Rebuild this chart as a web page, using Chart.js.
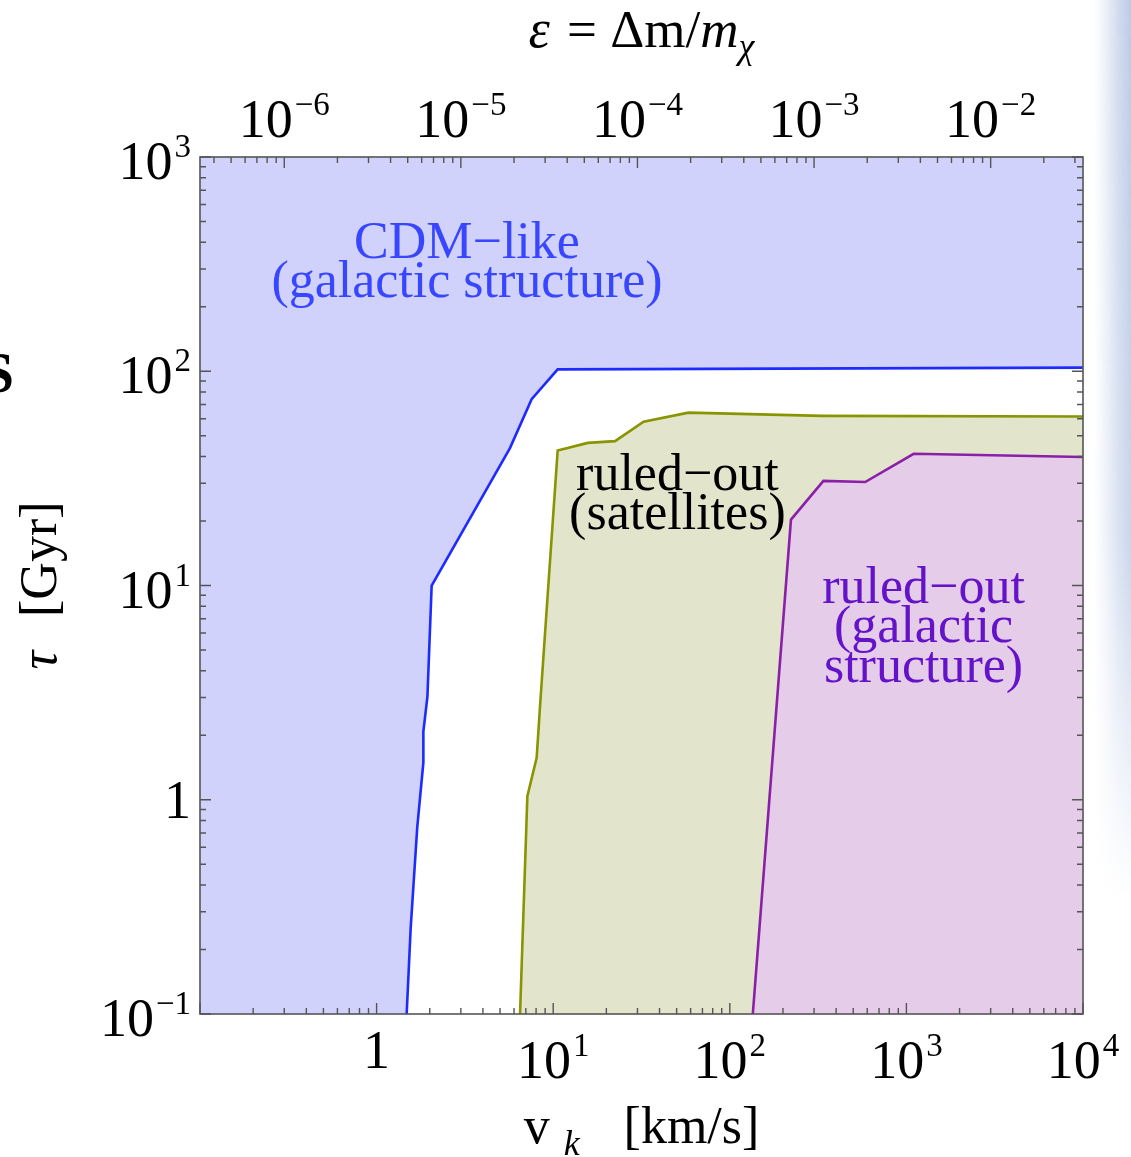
<!DOCTYPE html>
<html>
<head>
<meta charset="utf-8">
<script src="https://cdn.jsdelivr.net/npm/chart.js@4.4.1/dist/chart.umd.min.js"></script>
<style>
  html, body { margin: 0; padding: 0; background: #fff; }
  canvas { display: block; }
</style>
</head>
<body>
<canvas id="myChart" width="1131" height="1157"></canvas>
<script>
// boundaries: v_k [km/s] vs tau [Gyr]
const cdmV = [0.1, 1.48, 1.56, 1.70, 1.84, 1.84, 1.94, 2.05, 5.69, 7.55, 10.6, 10000];
const cdmTau = [0.1, 0.1, 0.253, 0.75, 1.49, 2.08, 3.03, 10.0, 43.8, 74.1, 102, 104];

const satV = [6.49, 7.14, 8.06, 8.42, 9.10, 10.6, 15.7, 22.4, 32.5, 58.3, 332, 10000];
const satTau = [0.1, 1.04, 1.57, 2.72, 6.92, 42.7, 46.3, 47.2, 58.2, 64.1, 61.9, 61.5];

const galV = [135, 222, 339, 584, 1099, 10000];
const galTau = [0.1, 20.3, 30.8, 30.4, 41.2, 39.8];

// tick labels: [mantissa text, exponent text]
const xTickVals = [1, 10, 100, 1000, 10000];
const xTickLabels = [['1', ''], ['10', '1'], ['10', '2'], ['10', '3'], ['10', '4']];
const yTickVals = [0.1, 1, 10, 100, 1000];
const yTickLabels = [['10', '−1'], ['1', ''], ['10', '1'], ['10', '2'], ['10', '3']];
const epsTickVals = [1e-6, 1e-5, 1e-4, 1e-3, 1e-2];
const epsTickLabels = [['10', '−6'], ['10', '−5'], ['10', '−4'], ['10', '−3'], ['10', '−2']];

const C_KMS = 3e5; // epsilon = v / c
const serif = "'Liberation Serif', 'DejaVu Serif', serif";

const ctx = document.getElementById('myChart');

function pts(xs, ys) {
  return xs.map((x, i) => ({ x: x, y: ys[i] }));
}

function richText(c, parts, x, y) {
  let w = 0;
  parts.forEach(p => { c.font = p.font; p.w = c.measureText(p.t).width; w += p.w + (p.gap || 0); });
  let cx = x - w / 2;
  c.textAlign = 'left';
  parts.forEach(p => {
    c.font = p.font;
    c.fillText(p.t, cx, y + (p.dy || 0));
    cx += p.w + (p.gap || 0);
  });
}

// draws "10" with raised exponent; align: 'center' or 'right'
function powerLabel(c, lab, x, base, align) {
  const big = '54px ' + serif, small = '33px ' + serif;
  c.font = big;
  const w1 = c.measureText(lab[0]).width;
  c.font = small;
  const w2 = lab[1] ? c.measureText(lab[1]).width + 2 : 0;
  const w = w1 + w2;
  const x0 = align === 'right' ? x - w : x - w / 2;
  c.textAlign = 'left';
  c.font = big;
  c.fillText(lab[0], x0, base);
  if (lab[1]) {
    c.font = small;
    c.fillText(lab[1], x0 + w1 + 2, base - 22);
  }
}

const notes = [
  { v: 3.25, tau: 338, color: '#3846ff', lines: ['CDM−like', '(galactic structure)'] },
  { v: 50.5, tau: 28, color: '#000000', lines: ['ruled−out', '(satellites)'] },
  { v: 1250, tau: 8.3, color: '#6413c9', lines: ['ruled−out', '(galactic', 'structure)'] }
];

const background = {
  id: 'background',
  beforeDraw(chart) {
    const c = chart.ctx;
    c.save();
    c.fillStyle = '#fff';
    c.fillRect(0, 0, chart.width, chart.height);
    // blurred strip at the right edge of the scan
    const off = document.createElement('canvas');
    off.width = 40; off.height = 900;
    const o = off.getContext('2d');
    const gh = o.createLinearGradient(0, 0, 40, 0);
    gh.addColorStop(0, 'rgba(205,215,235,0)');
    gh.addColorStop(0.6, 'rgba(190,205,232,0.7)');
    gh.addColorStop(1, 'rgba(175,192,225,0.9)');
    o.fillStyle = gh;
    o.fillRect(0, 0, 40, 900);
    o.globalCompositeOperation = 'destination-in';
    const gv = o.createLinearGradient(0, 0, 0, 900);
    gv.addColorStop(0, 'rgba(0,0,0,1)');
    gv.addColorStop(0.6, 'rgba(0,0,0,0.8)');
    gv.addColorStop(1, 'rgba(0,0,0,0)');
    o.fillStyle = gv;
    o.fillRect(0, 0, 40, 900);
    c.drawImage(off, 1094, 0);
    // cropped glyph at left edge
    c.fillStyle = '#000';
    c.font = 'bold 58px ' + serif;
    c.textAlign = 'right';
    c.fillText('S', 14, 392);
    c.restore();
  }
};

const frameTicks = {
  id: 'frameTicks',
  afterDatasetsDraw(chart) {
    const c = chart.ctx;
    const a = chart.chartArea;
    const s = chart.scales;
    const isMajor = v => Math.abs(Math.log10(v) - Math.round(Math.log10(v))) < 1e-6;
    const isNice = v => {
      const e = Math.floor(Math.log10(v) + 1e-9);
      const m = v / Math.pow(10, e);
      return Math.abs(m - Math.round(m)) < 1e-6;
    };
    c.save();
    c.strokeStyle = '#555';
    c.lineWidth = 1.4;
    c.beginPath();
    s.y.ticks.forEach(t => {
      if (!isNice(t.value)) return;
      const p = s.y.getPixelForValue(t.value);
      const len = isMajor(t.value) ? 11 : 6;
      c.moveTo(a.left, p); c.lineTo(a.left + len, p);
      c.moveTo(a.right, p); c.lineTo(a.right - len, p);
    });
    s.x.ticks.forEach(t => {
      if (!isNice(t.value)) return;
      const p = s.x.getPixelForValue(t.value);
      const len = isMajor(t.value) ? 11 : 6;
      c.moveTo(p, a.bottom); c.lineTo(p, a.bottom - len);
    });
    s.x2.ticks.forEach(t => {
      if (!isNice(t.value)) return;
      const p = s.x2.getPixelForValue(t.value);
      const len = isMajor(t.value) ? 11 : 6;
      c.moveTo(p, a.top); c.lineTo(p, a.top + len);
    });
    c.stroke();
    c.lineWidth = 1.6;
    c.strokeRect(a.left, a.top, a.right - a.left, a.bottom - a.top);

    // tick labels
    c.fillStyle = '#000';
    xTickVals.forEach((v, i) => {
      const lab = xTickLabels[i];
      powerLabel(c, lab, s.x.getPixelForValue(v), lab[1] ? a.bottom + 64 : a.bottom + 54, 'center');
    });
    epsTickVals.forEach((v, i) => {
      powerLabel(c, epsTickLabels[i], s.x2.getPixelForValue(v), a.top - 20, 'center');
    });
    yTickVals.forEach((v, i) => {
      const lab = yTickLabels[i];
      powerLabel(c, lab, a.left - 9, s.y.getPixelForValue(v) + (lab[1] ? 22 : 18), 'right');
    });

    // region labels
    c.textAlign = 'center';
    c.font = '52px ' + serif;
    notes.forEach(n => {
      const x = s.x.getPixelForValue(n.v);
      const y = s.y.getPixelForValue(n.tau);
      c.fillStyle = n.color;
      n.lines.forEach((l, i) => c.fillText(l, x, y + i * 39.5));
    });

    // axis titles
    c.fillStyle = '#000';
    const mid = (a.left + a.right) / 2;
    richText(c, [
      { t: 'ε', font: 'italic 54px ' + serif, gap: 4 },
      { t: ' = Δm/', font: '53px ' + serif },
      { t: 'm', font: 'italic 53px ' + serif },
      { t: 'χ', font: 'italic 36px ' + serif, dy: 11 }
    ], mid, 47);
    richText(c, [
      { t: 'v', font: '52px ' + serif, gap: 14 },
      { t: 'k', font: 'italic 36px ' + serif, dy: 12, gap: 44 },
      { t: '[km/s]', font: '52px ' + serif }
    ], mid, 1143);
    c.save();
    c.translate(56, (a.top + a.bottom) / 2);
    c.rotate(-Math.PI / 2);
    richText(c, [
      { t: 'τ', font: 'italic 52px ' + serif, gap: 34 },
      { t: '[Gyr]', font: '52px ' + serif }
    ], 0, 0);
    c.restore();
    c.restore();
  }
};

const hidden = { display: false, grid: { display: false } };

new Chart(ctx, {
  type: 'scatter',
  data: {
    datasets: [
      {
        label: 'CDM-like area',
        data: pts(cdmV, cdmTau),
        showLine: true,
        fill: 'end',
        borderWidth: 0,
        borderColor: 'rgba(0,0,0,0)',
        backgroundColor: '#d0d2fc',
        pointRadius: 0,
        order: 5
      },
      {
        label: 'CDM-like',
        data: pts(cdmV.slice(1), cdmTau.slice(1)),
        showLine: true,
        fill: false,
        borderColor: '#1e2bff',
        borderWidth: 2.6,
        pointRadius: 0,
        order: 4
      },
      {
        label: 'satellites',
        data: pts(satV, satTau),
        showLine: true,
        fill: 'start',
        borderColor: '#889400',
        backgroundColor: '#e2e5cb',
        borderWidth: 2.6,
        pointRadius: 0,
        order: 1
      },
      {
        label: 'galactic structure',
        data: pts(galV, galTau),
        showLine: true,
        fill: 'start',
        borderColor: '#8a1fa8',
        backgroundColor: '#e5cce9',
        borderWidth: 2.6,
        pointRadius: 0,
        order: 0
      }
    ]
  },
  options: {
    responsive: false,
    animation: false,
    layout: { padding: { right: 48 } },
    plugins: { legend: { display: false }, tooltip: { enabled: false } },
    scales: {
      x: {
        type: 'logarithmic',
        position: 'bottom',
        min: 0.1,
        max: 10000,
        grid: { display: false, drawTicks: false },
        border: { display: false },
        ticks: { display: false },
        afterFit: s => { s.height = 143; }
      },
      x2: {
        type: 'logarithmic',
        position: 'top',
        min: 0.1 / C_KMS,
        max: 10000 / C_KMS,
        grid: { display: false, drawTicks: false },
        border: { display: false },
        ticks: { display: false },
        afterFit: s => { s.height = 157; }
      },
      y: {
        type: 'logarithmic',
        position: 'left',
        min: 0.1,
        max: 1000,
        grid: { display: false, drawTicks: false },
        border: { display: false },
        ticks: { display: false },
        afterFit: s => { s.width = 200; }
      }
    }
  },
  plugins: [background, frameTicks]
});
</script>
</body>
</html>
